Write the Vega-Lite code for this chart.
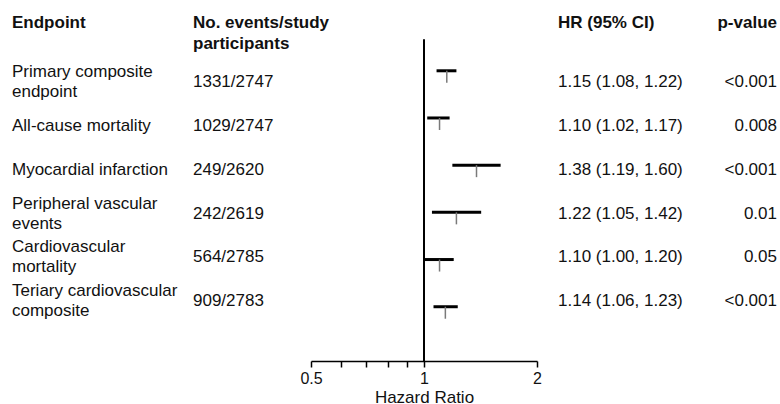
{
  "$schema": "https://vega.github.io/schema/vega-lite/v6.json",
  "padding": 0,
  "bounds": "flush",
  "spacing": 0,
  "config": {
    "view": {"stroke": null},
    "font": "Liberation Sans",
    "text": {"font": "Liberation Sans", "color": "#111111"}
  },
  "datasets": {
    "rows": [
      {"row": 1, "endpoint": "Primary composite\nendpoint", "events": "1331/2747", "hr": 1.15, "lo": 1.08, "hi": 1.22, "hrtext": "1.15 (1.08, 1.22)", "p": "<0.001"},
      {"row": 2, "endpoint": "All-cause mortality", "events": "1029/2747", "hr": 1.10, "lo": 1.02, "hi": 1.17, "hrtext": "1.10 (1.02, 1.17)", "p": "0.008"},
      {"row": 3, "endpoint": "Myocardial infarction", "events": "249/2620", "hr": 1.38, "lo": 1.19, "hi": 1.60, "hrtext": "1.38 (1.19, 1.60)", "p": "<0.001"},
      {"row": 4, "endpoint": "Peripheral vascular\nevents", "events": "242/2619", "hr": 1.22, "lo": 1.05, "hi": 1.42, "hrtext": "1.22 (1.05, 1.42)", "p": "0.01"},
      {"row": 5, "endpoint": "Cardiovascular\nmortality", "events": "564/2785", "hr": 1.10, "lo": 1.00, "hi": 1.20, "hrtext": "1.10 (1.00, 1.20)", "p": "0.05"},
      {"row": 6, "endpoint": "Teriary cardiovascular\ncomposite", "events": "909/2783", "hr": 1.14, "lo": 1.06, "hi": 1.23, "hrtext": "1.14 (1.06, 1.23)", "p": "<0.001"}
    ],
    "headers": [
      {"column": "endpoint", "text": "Endpoint"},
      {"column": "events", "text": "No. events/study\nparticipants"},
      {"column": "hrtext", "text": "HR (95% CI)"},
      {"column": "p", "text": "p-value"}
    ]
  },
  "hconcat": [
    {
      "width": 311,
      "height": 361,
      "layer": [
        {
          "data": {"name": "headers"},
          "transform": [{"filter": "datum.column == 'endpoint' || datum.column == 'events'"}],
          "mark": {"type": "text", "align": "left", "baseline": "alphabetic", "dy": -8.9, "fontSize": 17, "fontWeight": "bold", "lineBreak": "\n", "lineHeight": 21},
          "encoding": {
            "x": {"field": "column", "type": "nominal", "scale": {"type": "point", "padding": 0, "domain": ["endpoint", "events"], "range": [12, 193]}, "axis": null},
            "y": {"datum": 0, "type": "quantitative", "scale": {"domain": [-0.842, 7.4], "reverse": true, "nice": false, "zero": false}, "axis": null},
            "text": {"field": "text"}
          }
        },
        {
          "data": {"name": "rows"},
          "transform": [{"filter": "indexof(datum.endpoint, '\\n') >= 0"}],
          "mark": {"type": "text", "align": "left", "baseline": "middle", "dy": -8.5, "fontSize": 17, "lineBreak": "\n", "lineHeight": 20},
          "encoding": {
            "x": {"datum": "endpoint", "type": "nominal", "scale": {"type": "point", "padding": 0, "domain": ["endpoint", "events"], "range": [12, 193]}, "axis": null},
            "y": {"field": "row", "type": "quantitative", "scale": {"domain": [-0.842, 7.4], "reverse": true, "nice": false, "zero": false}, "axis": null},
            "text": {"field": "endpoint"}
          }
        },
        {
          "data": {"name": "rows"},
          "transform": [{"filter": "indexof(datum.endpoint, '\\n') < 0"}],
          "mark": {"type": "text", "align": "left", "baseline": "middle", "dy": 1.5, "fontSize": 17},
          "encoding": {
            "x": {"datum": "endpoint", "type": "nominal", "scale": {"type": "point", "padding": 0, "domain": ["endpoint", "events"], "range": [12, 193]}, "axis": null},
            "y": {"field": "row", "type": "quantitative", "scale": {"domain": [-0.842, 7.4], "reverse": true, "nice": false, "zero": false}, "axis": null},
            "text": {"field": "endpoint"}
          }
        },
        {
          "data": {"name": "rows"},
          "mark": {"type": "text", "align": "left", "baseline": "middle", "dy": 1.5, "fontSize": 17},
          "encoding": {
            "x": {"datum": "events", "type": "nominal", "scale": {"type": "point", "padding": 0, "domain": ["endpoint", "events"], "range": [12, 193]}, "axis": null},
            "y": {"field": "row", "type": "quantitative", "scale": {"domain": [-0.842, 7.4], "reverse": true, "nice": false, "zero": false}, "axis": null},
            "text": {"field": "events"}
          }
        }
      ]
    },
    {
      "width": 226,
      "height": 361,
      "layer": [
        {
          "data": {"values": [{"ref": 1}]},
          "mark": {"type": "rule", "color": "#000000", "strokeWidth": 2},
          "encoding": {
            "x": {"field": "ref", "type": "quantitative"},
            "y": {"datum": 0.33, "type": "quantitative"},
            "y2": {"datum": 7.15}
          }
        },
        {
          "data": {"name": "rows"},
          "mark": {"type": "rule", "color": "#000000", "strokeWidth": 3},
          "encoding": {
            "x": {"field": "lo", "type": "quantitative"},
            "x2": {"field": "hi"},
            "y": {"field": "row", "type": "quantitative"}
          }
        },
        {
          "data": {"name": "rows"},
          "mark": {"type": "rule", "color": "#7a7a7a", "strokeWidth": 1.5, "y2Offset": 12},
          "encoding": {
            "x": {"field": "hr", "type": "quantitative"},
            "y": {"field": "row", "type": "quantitative"},
            "y2": {"field": "row"}
          }
        }
      ],
      "encoding": {
        "x": {
          "type": "quantitative",
          "scale": {"type": "log", "domain": [0.5, 2], "nice": false},
          "axis": {
            "title": "Hazard Ratio",
            "values": [0.5, 0.6, 0.7, 0.8, 0.9, 1, 2],
            "labelExpr": "datum.value == 0.5 ? '0.5' : datum.value == 1 ? '1' : datum.value == 2 ? '2' : ''",
            "grid": false,
            "domainColor": "#000000",
            "domainWidth": 1.5,
            "tickColor": "#000000",
            "tickWidth": 1.5,
            "tickSize": 6,
            "labelFontSize": 16,
            "labelColor": "#111111",
            "labelPadding": 3,
            "labelOverlap": false,
            "labelFlush": false,
            "labelBound": false,
            "titleFontSize": 17,
            "titleFontWeight": "normal",
            "titleColor": "#111111",
            "titlePadding": 3
          }
        },
        "y": {
          "type": "quantitative",
          "scale": {"domain": [-0.5, 7.15], "reverse": true, "nice": false, "zero": false},
          "axis": null
        }
      }
    },
    {
      "width": 243,
      "height": 361,
      "layer": [
        {
          "data": {"name": "headers"},
          "transform": [{"filter": "datum.column == 'hrtext'"}],
          "mark": {"type": "text", "align": "left", "baseline": "alphabetic", "dy": -8.9, "fontSize": 17, "fontWeight": "bold"},
          "encoding": {
            "x": {"field": "column", "type": "nominal", "scale": {"type": "point", "padding": 0, "domain": ["hrtext", "p"], "range": [21, 240]}, "axis": null},
            "y": {"datum": 0, "type": "quantitative", "scale": {"domain": [-0.842, 7.4], "reverse": true, "nice": false, "zero": false}, "axis": null},
            "text": {"field": "text"}
          }
        },
        {
          "data": {"name": "headers"},
          "transform": [{"filter": "datum.column == 'p'"}],
          "mark": {"type": "text", "align": "right", "baseline": "alphabetic", "dy": -8.9, "fontSize": 17, "fontWeight": "bold"},
          "encoding": {
            "x": {"field": "column", "type": "nominal", "scale": {"type": "point", "padding": 0, "domain": ["hrtext", "p"], "range": [21, 240]}, "axis": null},
            "y": {"datum": 0, "type": "quantitative", "scale": {"domain": [-0.842, 7.4], "reverse": true, "nice": false, "zero": false}, "axis": null},
            "text": {"field": "text"}
          }
        },
        {
          "data": {"name": "rows"},
          "mark": {"type": "text", "align": "left", "baseline": "middle", "dy": 1.5, "fontSize": 17},
          "encoding": {
            "x": {"datum": "hrtext", "type": "nominal", "scale": {"type": "point", "padding": 0, "domain": ["hrtext", "p"], "range": [21, 240]}, "axis": null},
            "y": {"field": "row", "type": "quantitative", "scale": {"domain": [-0.842, 7.4], "reverse": true, "nice": false, "zero": false}, "axis": null},
            "text": {"field": "hrtext"}
          }
        },
        {
          "data": {"name": "rows"},
          "mark": {"type": "text", "align": "right", "baseline": "middle", "dy": 1.5, "fontSize": 17},
          "encoding": {
            "x": {"datum": "p", "type": "nominal", "scale": {"type": "point", "padding": 0, "domain": ["hrtext", "p"], "range": [21, 240]}, "axis": null},
            "y": {"field": "row", "type": "quantitative", "scale": {"domain": [-0.842, 7.4], "reverse": true, "nice": false, "zero": false}, "axis": null},
            "text": {"field": "p"}
          }
        }
      ]
    }
  ]
}
